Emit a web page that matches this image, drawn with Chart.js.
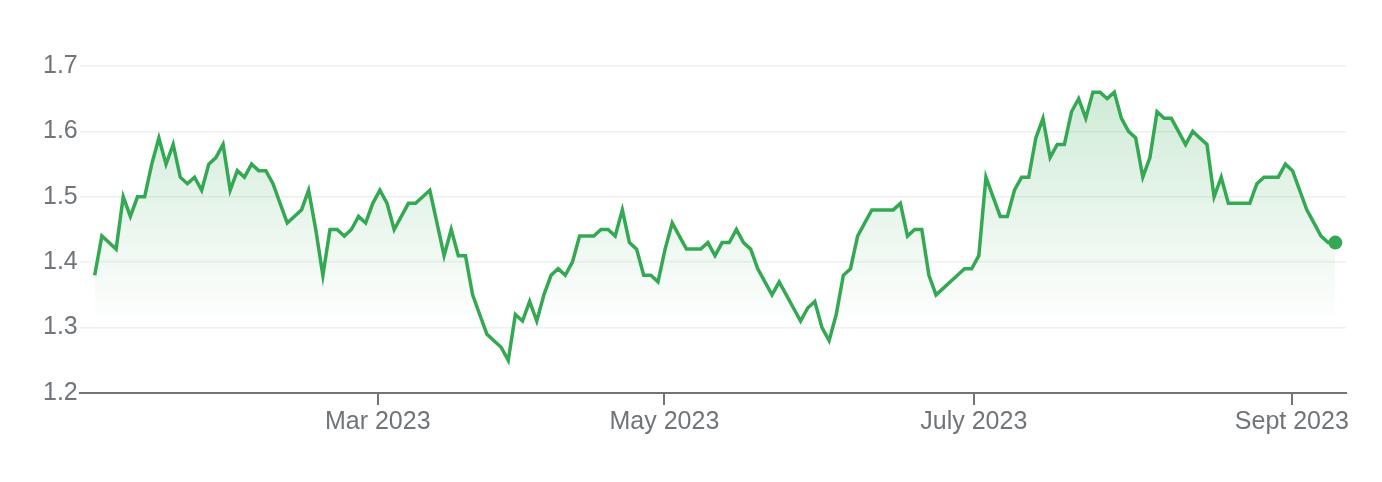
<!DOCTYPE html>
<html>
<head>
<meta charset="utf-8">
<script src="https://cdn.jsdelivr.net/npm/chart.js@4"></script>
<style>
  body { margin: 0; background: #fff; }
  #wrap { width: 1382px; height: 482px; }
</style>
</head>
<body>
<div id="wrap"><canvas id="price-chart" width="1382" height="482"></canvas></div>
<script>
// closing prices, one per trading day
var prices = [
  1.38, 1.44, 1.43, 1.42, 1.50, 1.47, 1.50, 1.50, 1.55, 1.59,
  1.55, 1.58, 1.53, 1.52, 1.53, 1.51, 1.55, 1.56, 1.58, 1.51,
  1.54, 1.53, 1.55, 1.54, 1.54, 1.52, 1.49, 1.46, 1.47, 1.48,
  1.51, 1.45, 1.38, 1.45, 1.45, 1.44, 1.45, 1.47, 1.46, 1.49,
  1.51, 1.49, 1.45, 1.47, 1.49, 1.49, 1.50, 1.51, 1.46, 1.41,
  1.45, 1.41, 1.41, 1.35, 1.32, 1.29, 1.28, 1.27, 1.25, 1.32,
  1.31, 1.34, 1.31, 1.35, 1.38, 1.39, 1.38, 1.40, 1.44, 1.44,
  1.44, 1.45, 1.45, 1.44, 1.48, 1.43, 1.42, 1.38, 1.38, 1.37,
  1.42, 1.46, 1.44, 1.42, 1.42, 1.42, 1.43, 1.41, 1.43, 1.43,
  1.45, 1.43, 1.42, 1.39, 1.37, 1.35, 1.37, 1.35, 1.33, 1.31,
  1.33, 1.34, 1.30, 1.28, 1.32, 1.38, 1.39, 1.44, 1.46, 1.48,
  1.48, 1.48, 1.48, 1.49, 1.44, 1.45, 1.45, 1.38, 1.35, 1.36,
  1.37, 1.38, 1.39, 1.39, 1.41, 1.53, 1.50, 1.47, 1.47, 1.51,
  1.53, 1.53, 1.59, 1.62, 1.56, 1.58, 1.58, 1.63, 1.65, 1.62,
  1.66, 1.66, 1.65, 1.66, 1.62, 1.60, 1.59, 1.53, 1.56, 1.63,
  1.62, 1.62, 1.60, 1.58, 1.60, 1.59, 1.58, 1.50, 1.53, 1.49,
  1.49, 1.49, 1.49, 1.52, 1.53, 1.53, 1.53, 1.55, 1.54, 1.51,
  1.48, 1.46, 1.44, 1.43, 1.43
];

// where each month label falls along the series (in trading-day steps)
var monthAt = [39.7, 79.9, 123.3, 167.9];
var monthLabels = ["Mar 2023", "May 2023", "July 2023", "Sept 2023"];

var green = "#34a853";
var grey = "#70757a";

Chart.defaults.font.family = "'Liberation Sans', Arial, Helvetica, sans-serif";
Chart.defaults.font.size = 25;
Chart.defaults.color = grey;

var points = prices.map(function (v, i) { return { x: i, y: v }; });
var last = prices.length - 1;

var ctx = document.getElementById("price-chart");

new Chart(ctx, {
  type: "line",
  data: {
    datasets: [{
      data: points,
      borderColor: green,
      borderWidth: 3.5,
      tension: 0,
      fill: "start",
      backgroundColor: function (c) {
        var area = c.chart.chartArea;
        if (!area) return "rgba(52,168,83,0.1)";
        var g = c.chart.ctx.createLinearGradient(0, area.top, 0, area.bottom);
        g.addColorStop(0, "rgba(52,168,83,0.26)");
        g.addColorStop(0.8, "rgba(52,168,83,0.0)");
        return g;
      },
      pointRadius: function (c) { return c.dataIndex === last ? 7 : 0; },
      pointBackgroundColor: green,
      pointBorderWidth: 0,
      pointHoverRadius: 0
    }]
  },
  options: {
    responsive: false,
    animation: false,
    layout: { padding: { left: 41, right: 36, top: 66, bottom: 43 } },
    plugins: {
      legend: { display: false },
      tooltip: { enabled: false }
    },
    scales: {
      x: {
        type: "linear",
        min: -2.1,
        max: 175.5,
        afterBuildTicks: function (axis) {
          axis.ticks = monthAt.map(function (v) { return { value: v }; });
        },
        ticks: {
          autoSkip: false,
          maxRotation: 0,
          padding: 2,
          callback: function (value, index) { return monthLabels[index]; }
        },
        grid: {
          drawOnChartArea: false,
          drawTicks: true,
          tickLength: 12,
          color: grey,
          lineWidth: 2
        },
        border: { display: true, color: grey, width: 2 }
      },
      y: {
        min: 1.2,
        max: 1.7,
        ticks: {
          stepSize: 0.1,
          padding: 2,
          callback: function (v) { return v.toFixed(1); }
        },
        grid: {
          drawTicks: false,
          color: "#efefef",
          lineWidth: 1.5
        },
        border: { display: false }
      }
    }
  }
});
</script>
</body>
</html>
